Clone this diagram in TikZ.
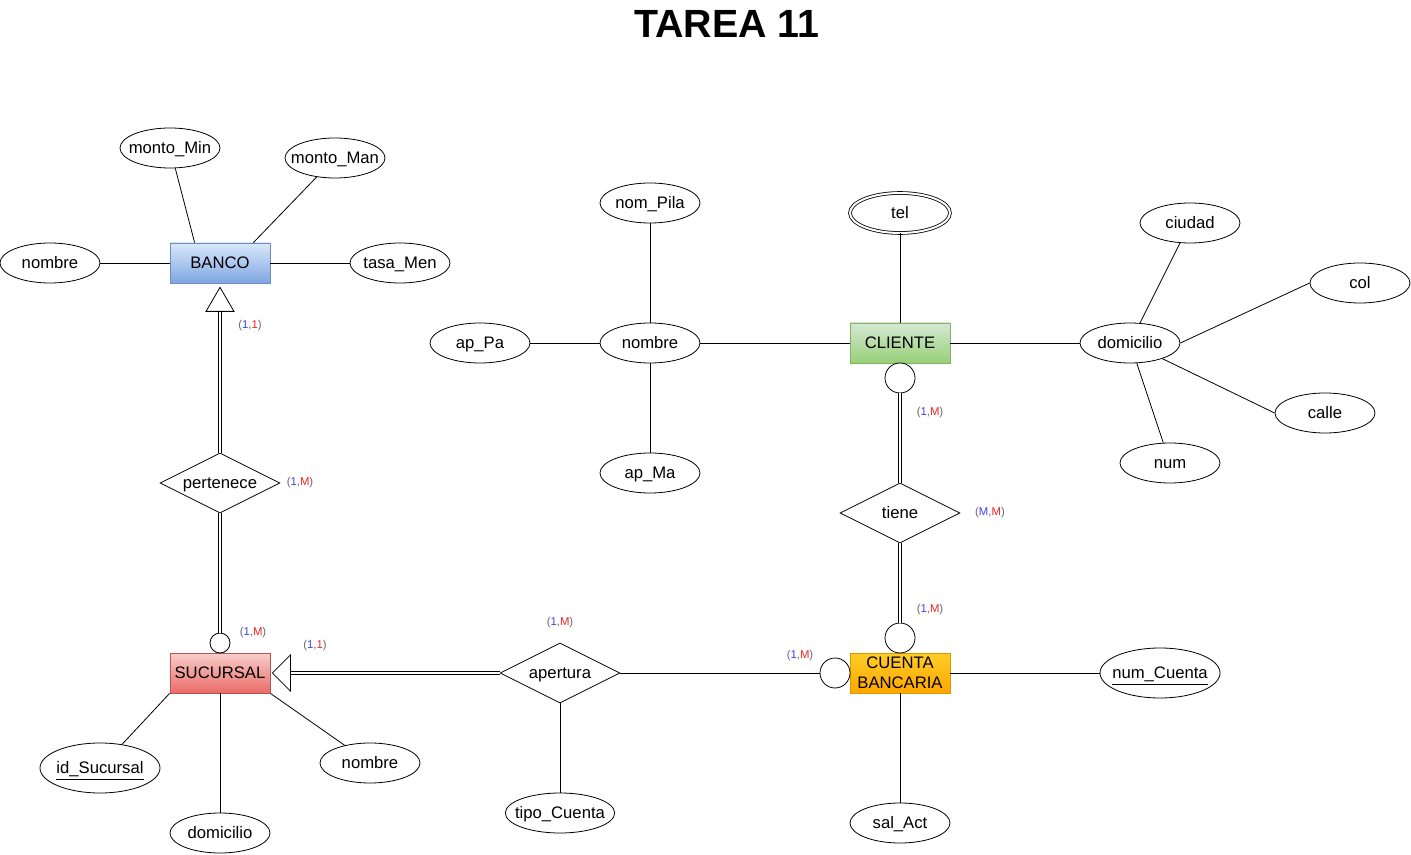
\documentclass[tikz,border=0pt]{standalone}
\usepackage{fontspec}
\setmainfont{Liberation Sans}
\usetikzlibrary{shapes.geometric,calc}
\definecolor{ebluet}{HTML}{DAE8FC}
\definecolor{eblueb}{HTML}{7EA6E0}
\definecolor{ebluel}{HTML}{6C8EBF}
\definecolor{eredt}{HTML}{F8CECC}
\definecolor{eredb}{HTML}{EA6B66}
\definecolor{eredl}{HTML}{B85450}
\definecolor{egreent}{HTML}{D5E8D4}
\definecolor{egreenb}{HTML}{97D077}
\definecolor{egreenl}{HTML}{82B366}
\definecolor{eoranget}{HTML}{FFCD28}
\definecolor{eorangeb}{HTML}{FFA500}
\definecolor{eorangel}{HTML}{D79B00}
\definecolor{cgray}{HTML}{666666}
\definecolor{cblue}{HTML}{3F3FFF}
\definecolor{cred}{HTML}{EE2222}
\newcommand\cardi[2]{\textcolor{cgray}{(}\textcolor{cblue}{#1}\textcolor{cgray}{,}\textcolor{cred}{#2}\textcolor{cgray}{)}}
\tikzset{
  ent/.style={rectangle,minimum width=75pt,minimum height=30pt,inner sep=0pt,align=center,font=\fontsize{12.5}{15}\selectfont},
  bancob/.style={ent,top color=ebluet,bottom color=eblueb,draw=ebluel},
  sucb/.style={ent,top color=eredt,bottom color=eredb,draw=eredl},
  clib/.style={ent,top color=egreent,bottom color=egreenb,draw=egreenl},
  ctab/.style={ent,top color=eoranget,bottom color=eorangeb,draw=eorangel},
  attr/.style={ellipse,draw,fill=white,minimum width=75pt,minimum height=30pt,inner sep=0pt,font=\fontsize{12.5}{15}\selectfont,
    text height=0.95em,text depth=0.1em,
    execute at begin node={\hbox to 0pt\bgroup\hss},execute at end node={\hss\egroup}},
  rel/.style={diamond,draw,fill=white,minimum width=90pt,minimum height=45pt,inner sep=0pt,font=\fontsize{12.5}{15}\selectfont,
    text height=0.95em,text depth=0.1em,
    execute at begin node={\hbox to 0pt\bgroup\hss},execute at end node={\hss\egroup}},
  circ/.style={circle,draw,fill=white,inner sep=0pt},
  dbl/.style={double,double distance=2.2pt},
  lbl/.style={font=\fontsize{8.5}{10}\selectfont,inner sep=0pt},
}
\begin{document}
\begin{tikzpicture}[x=0.75pt,y=-0.75pt,line width=0.6pt]
  \useasboundingbox (0,0) rectangle (1411,855);
  \node[font=\fontsize{29.5}{31}\selectfont\bfseries] (title) at (727,24) {TAREA 11};

  \node[bancob] (banco) at (220,263) {BANCO};
  \node[attr] (mmin) at (170,148) {monto\_Min};
  \node[attr] (mman) at (335,158) {monto\_Man};
  \node[attr] (bnom) at (50,263) {nombre};
  \node[attr] (tasa) at (400,263) {tasa\_Men};
  \draw (mmin) -- ($(banco.north west)+(25,0)$);
  \draw (mman) -- ($(banco.north east)+(-17,0)$);
  \draw (bnom) -- (banco);
  \draw (tasa) -- (banco);

  \node[rel] (pert) at (220,483) {pertenece};
  \node[sucb] (suc) at (220,673) {SUCURSAL};
  \node[circ,minimum size=15pt] (csuc) at (220,643) {};
  \coordinate (tri1) at ($(banco.south)+(0,28)$);
  \draw[dbl] (pert.north) -- (tri1);
  \draw[fill=white] ($(banco.south)+(0,4)$) -- ++(-14,24) -- ++(28,0) -- cycle;
  \draw[dbl] (pert.south) -- (csuc);
  \node[lbl] (l1) at (250,326) {\cardi{1}{1}};
  \node[lbl] (l2) at (300,483) {\cardi{1}{M}};
  \node[lbl] (l3) at (253,633) {\cardi{1}{M}};

  \node[attr,minimum width=90pt,minimum height=37.5pt] (idsuc) at (100,768) {\underline{id\_Sucursal}};
  \node[attr] (sdom) at (220,833) {domicilio};
  \node[attr] (snom) at (370,763) {nombre};
  \draw (idsuc) -- (suc.south west);
  \draw (sdom) -- (suc);
  \draw (snom) -- (suc.south east);

  \node[rel] (apert) at (560,673) {apertura};
  \node[attr,minimum width=82pt] (tipo) at (560,813) {tipo\_Cuenta};
  \coordinate (tri2) at ($(suc.east)+(20,0)$);
  \draw[dbl] (tri2) -- (apert.west);
  \draw[fill=white] ($(suc.east)+(2,0)$) -- ++(18,-18) -- ++(0,36) -- cycle;
  \draw (apert) -- (tipo);
  \node[lbl] (l4) at (315,646) {\cardi{1}{1}};
  \node[lbl] (l5) at (560,623) {\cardi{1}{M}};

  \node[ctab] (cta) at (900,673) {CUENTA\\BANCARIA};
  \node[circ,minimum size=22.5pt] (ccta1) at (900,638) {};
  \node[circ,minimum size=22.5pt] (ccta2) at (835,673) {};
  \node[attr,minimum width=90pt,minimum height=37.5pt] (ncta) at (1160,673) {\underline{num\_Cuenta}};
  \node[attr] (sal) at (900,823) {sal\_Act};
  \draw (apert.east) -- (ccta2);
  \draw (cta) -- (ncta);
  \draw (cta) -- (sal);
  \node[lbl] (l6) at (800,656) {\cardi{1}{M}};
  \node[lbl] (l7) at (930,610) {\cardi{1}{M}};

  \node[rel] (tiene) at (900,513) {tiene};
  \node[clib] (cli) at (900,343) {CLIENTE};
  \node[circ,minimum size=22.5pt] (ccli) at (900,378) {};
  \draw[dbl] (ccli) -- (tiene.north);
  \draw[dbl] (tiene.south) -- (ccta1);
  \node[lbl] (l8) at (990,513) {\cardi{M}{M}};
  \node[lbl] (l9) at (930,413) {\cardi{1}{M}};

  \node[attr,double,double distance=1.5pt] (tel) at (900,213) {tel};
  \node[attr] (cnom) at (650,343) {nombre};
  \node[attr] (pila) at (650,203) {nom\_Pila};
  \node[attr] (appa) at (480,343) {ap\_Pa};
  \node[attr] (apma) at (650,473) {ap\_Ma};
  \draw (tel) -- (cli);
  \draw (cnom) -- (cli);
  \draw (pila) -- (cnom);
  \draw (appa) -- (cnom);
  \draw (apma) -- (cnom);

  \node[attr] (cdom) at (1130,343) {domicilio};
  \node[attr] (ciudad) at (1190,223) {ciudad};
  \node[attr] (col) at (1360,283) {col};
  \node[attr] (calle) at (1325,413) {calle};
  \node[attr] (num) at (1170,463) {num};
  \draw (cli) -- (cdom);
  \draw (ciudad) -- (cdom);
  \draw (col.west) -- (cdom.east);
  \draw (calle.west) -- (cdom);
  \draw (num) -- (cdom);
\end{tikzpicture}
\end{document}
